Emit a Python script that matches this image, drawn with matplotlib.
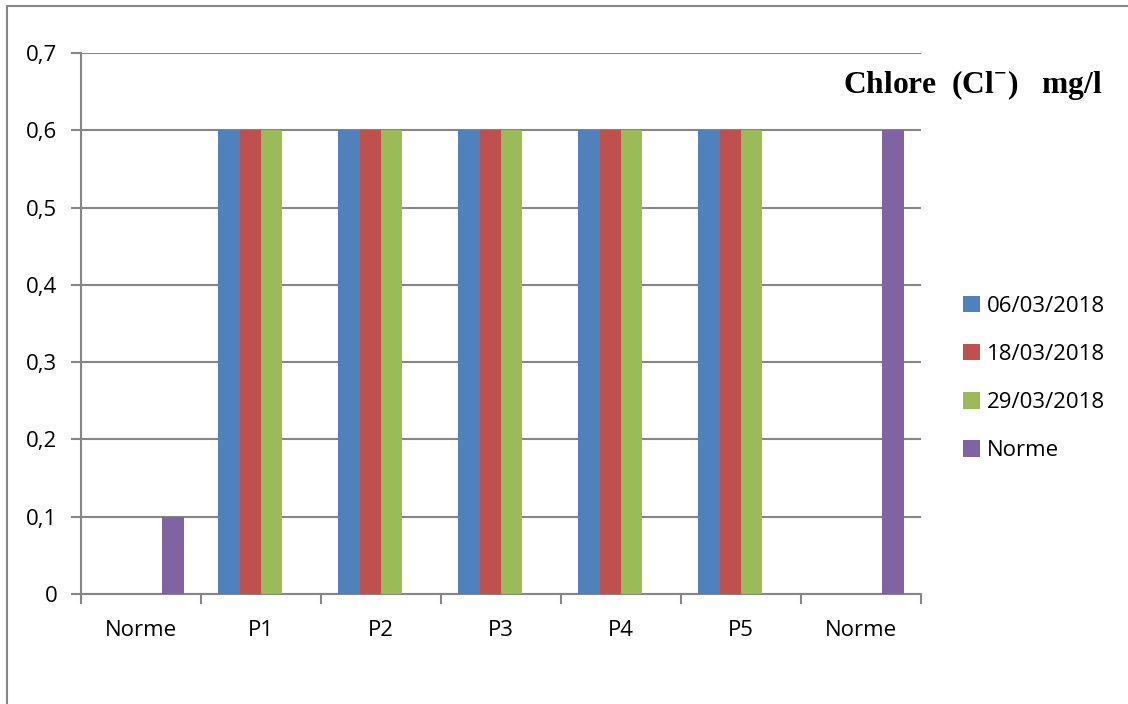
import matplotlib
matplotlib.use("Agg")
import matplotlib.pyplot as plt
from matplotlib.lines import Line2D
import numpy as np

categories = ["Norme", "P1", "P2", "P3", "P4", "P5", "Norme"]
series_names = ["06/03/2018", "18/03/2018", "29/03/2018", "Norme"]
s_0603 = [0, 0.6, 0.6, 0.6, 0.6, 0.6, 0]
s_1803 = [0, 0.6, 0.6, 0.6, 0.6, 0.6, 0]
s_2903 = [0, 0.6, 0.6, 0.6, 0.6, 0.6, 0]
s_norme = [0.1, 0, 0, 0, 0, 0, 0.6]
y_ticks = [0, 0.1, 0.2, 0.3, 0.4, 0.5, 0.6, 0.7]
y_labels = ["0", "0,1", "0,2", "0,3", "0,4", "0,5", "0,6", "0,7"]

colors = ["#4F81BD", "#C0504D", "#9BBB59", "#8064A2"]
grid_col = "#868686"

plt.rcParams["font.family"] = ["Open Sans", "DejaVu Sans"]
plt.rcParams["mathtext.fontset"] = "custom"
plt.rcParams["mathtext.rm"] = "Liberation Serif:bold"
plt.rcParams["mathtext.bf"] = "Liberation Serif:bold"

fig = plt.figure(figsize=(11.28, 7.04), dpi=100)
ax = fig.add_axes([81 / 1128, 110 / 704, 840 / 1128, 541 / 704])

x = np.arange(len(categories))
w = 0.179
all_series = [s_0603, s_1803, s_2903, s_norme]
for i, (vals, name, c) in enumerate(zip(all_series, series_names, colors)):
    ax.bar(x + (i - 1.5) * w, vals, width=w, color=c, label=name, zorder=3)

ax.set_xlim(-0.5, len(categories) - 0.5)
ax.set_ylim(0, 0.7)
ax.set_yticks(y_ticks)
ax.set_yticklabels(y_labels, fontsize=16)
ax.set_xticks(x)
ax.set_xticklabels(categories, fontsize=16)
ax.set_xticks(np.arange(-0.5, len(categories)), minor=True)
ax.tick_params(axis="x", which="major", length=0, pad=19)
ax.tick_params(axis="x", which="minor", length=7, color=grid_col, width=1.5)
ax.tick_params(axis="y", length=7, color=grid_col, width=1.5, pad=10)
ax.yaxis.grid(True, color=grid_col, linewidth=1.5, zorder=0)
ax.set_axisbelow(True)
for s in ["top", "right"]:
    ax.spines[s].set_visible(False)
for s in ["left", "bottom"]:
    ax.spines[s].set_color(grid_col)
    ax.spines[s].set_linewidth(1.5)

leg = ax.legend(loc="upper left", bbox_to_anchor=(954 / 1128, 1 - 287 / 704),
                bbox_transform=fig.transFigure, frameon=False, fontsize=16,
                handlelength=0.75, handleheight=0.75, handletextpad=0.35,
                labelspacing=1.22, borderaxespad=0)

fig.text(843 / 1128, 1 - 85 / 704, r"Chlore  (Cl$^{-}$)   mg/l",
         family=["Liberation Serif", "DejaVu Serif"], fontweight="bold",
         fontsize=22.7, va="center", ha="left")

fig.add_artist(Line2D([7 / 1128, 7 / 1128], [0, 1 - 6 / 704],
                      transform=fig.transFigure, color=grid_col, linewidth=1.5))
fig.add_artist(Line2D([7 / 1128, 1], [1 - 6 / 704, 1 - 6 / 704],
                      transform=fig.transFigure, color=grid_col, linewidth=1.5))

fig.savefig("out.png", dpi=100)
